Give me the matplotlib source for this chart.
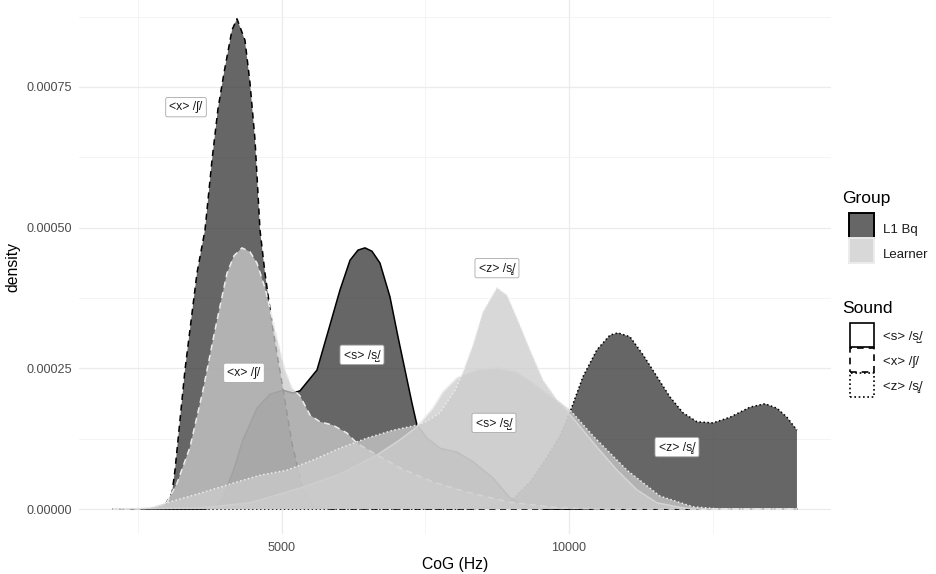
import matplotlib.pyplot as plt
from matplotlib.patches import Rectangle

FONTS = ["Liberation Sans", "DejaVu Sans"]
plt.rcParams["font.family"] = FONTS

# density curves (CoG in Hz, density)
cog_l1_s = [2056, 3659, 3833, 3955, 4146, 4321, 4564, 4791, 5017, 5192, 5314,
            5610, 5836, 6010, 6185, 6324, 6446, 6568, 6707, 6881, 7021, 7143,
            7265, 7352, 7526, 7752, 8049, 8327, 8676, 8972, 9233, 9581, 13971]
dens_l1_s = [0, 0, 0.000004, 0.000016, 0.000066, 0.000123, 0.000179, 0.000204,
             0.000211, 0.000206, 0.000210, 0.000247, 0.000327, 0.000389,
             0.000442, 0.000460, 0.000464, 0.000458, 0.000437, 0.000377,
             0.000306, 0.000247, 0.000188, 0.000149, 0.000126, 0.000108,
             0.000101, 0.000084, 0.000055, 0.000020, 0.000005, 0, 0]

cog_l1_x = [2056, 2701, 2875, 2962, 3084, 3136, 3310, 3519, 3659, 3781, 3885,
            3990, 4129, 4216, 4355, 4443, 4530, 4617, 4704, 4843, 5000, 5174,
            5366, 5540, 5836, 13971]
dens_l1_x = [0, 0, 0.000002, 0.000007, 0.000028, 0.000069, 0.000247, 0.000419,
             0.000496, 0.000620, 0.000711, 0.000775, 0.000851, 0.000871,
             0.000833, 0.000757, 0.000656, 0.000496, 0.000419, 0.000318,
             0.000224, 0.000117, 0.000034, 0.000004, 0, 0]

cog_l1_z = [2056, 8275, 8623, 9007, 9320, 9616, 9843, 10017, 10243, 10487,
            10714, 10853, 11062, 11289, 11533, 11759, 11985, 12229, 12508,
            12804, 13153, 13414, 13623, 13797, 13971]
dens_l1_z = [0, 0, 0.000004, 0.000016, 0.000048, 0.000092, 0.000130, 0.000172,
             0.000235, 0.000283, 0.000309, 0.000313, 0.000306, 0.000274,
             0.000235, 0.000199, 0.000171, 0.000155, 0.000153, 0.000163,
             0.000181, 0.000187, 0.000179, 0.000163, 0.000140]

cog_lr_s = [2056, 3572, 4443, 5314, 6010, 6655, 7056, 7352, 7630, 7805, 8049,
            8397, 8763, 9094, 9372, 9843, 10139, 10487, 10836, 11184, 11533,
            11985, 12282, 13971]
dens_lr_s = [0, 0.000002, 0.000011, 0.000037, 0.000062, 0.000096, 0.000123,
             0.000146, 0.000179, 0.000208, 0.000233, 0.000247, 0.000251,
             0.000243, 0.000224, 0.000188, 0.000153, 0.000110, 0.000069,
             0.000034, 0.000011, 0.000002, 0, 0]

cog_lr_x = [2056, 2526, 2822, 2997, 3171, 3397, 3624, 3833, 4042, 4164, 4303,
            4443, 4564, 4704, 4878, 5052, 5174, 5314, 5488, 5662, 5888, 6132,
            6307, 6655, 7056, 7630, 8223, 8972, 9843, 10540, 13971]
dens_lr_x = [0, 0, 0.000004, 0.000012, 0.000046, 0.000110, 0.000211, 0.000318,
             0.000419, 0.000450, 0.000464, 0.000457, 0.000437, 0.000393,
             0.000318, 0.000247, 0.000215, 0.000201, 0.000167, 0.000155,
             0.000149, 0.000135, 0.000117, 0.000096, 0.000073, 0.000048,
             0.000030, 0.000012, 0.000002, 0, 0]

cog_lr_z = [2056, 2701, 2997, 3572, 4216, 4617, 5087, 5540, 6010, 6481, 6934,
            7352, 7526, 7752, 7874, 8014, 8153, 8327, 8501, 8745, 8920, 9094,
            9320, 9547, 9791, 10017, 10418, 11010, 11585, 12160, 12630, 13971]
dens_lr_z = [0, 0.000002, 0.000011, 0.000028, 0.000048, 0.000060, 0.000069,
             0.000087, 0.000108, 0.000126, 0.000140, 0.000149, 0.000156,
             0.000171, 0.000190, 0.000211, 0.000243, 0.000291, 0.000350,
             0.000393, 0.000380, 0.000339, 0.000283, 0.000229, 0.000194,
             0.000176, 0.000130, 0.000069, 0.000023, 0.000004, 0, 0]

groups = ["L1 Bq", "Learner"]
sounds = ["<s> /s\u033a/", "<x> /\u0283/", "<z> /s\u033b/"]

# in-plot labels: (text, CoG, density)
label_text = [sounds[1], sounds[1], sounds[0], sounds[2], sounds[0], sounds[2]]
label_cog = [3328, 4338, 6394, 8745, 8693, 11881]
label_dens = [0.000714, 0.000242, 0.000274, 0.000428, 0.000153, 0.000110]

fill_col = {"L1 Bq": (0.2, 0.2, 0.2, 0.75), "Learner": (0.8, 0.8, 0.8, 0.75)}
line_col = {"L1 Bq": "black", "Learner": "#ececec"}
line_sty = {sounds[0]: "-", sounds[1]: (0, (4, 3)), sounds[2]: (0, (1, 1.6))}

curves = [
    ("L1 Bq", sounds[0], cog_l1_s, dens_l1_s),
    ("L1 Bq", sounds[1], cog_l1_x, dens_l1_x),
    ("L1 Bq", sounds[2], cog_l1_z, dens_l1_z),
    ("Learner", sounds[0], cog_lr_s, dens_lr_s),
    ("Learner", sounds[1], cog_lr_x, dens_lr_x),
    ("Learner", sounds[2], cog_lr_z, dens_lr_z),
]

W, H = 937, 574
fig = plt.figure(figsize=(W / 100, H / 100), dpi=100)
ax = fig.add_axes([79 / W, 1 - 533.5 / H, (831 - 79) / W, 533.5 / H])
ax.set_xlim(1464, 14564)
ax.set_ylim(-0.0000435, 0.0009044)

# each group: fill then outline, stacked in drawing order like ggplot
z = 2
for grp, snd, xs, ys in curves:
    ax.fill_between(xs, ys, 0, facecolor=fill_col[grp], linewidth=0, zorder=z)
    ax.plot(xs, ys, color=line_col[grp], linestyle=line_sty[snd], linewidth=1.1,
            zorder=z + 0.5)
    z += 1

for txt, xv, yv in zip(label_text, label_cog, label_dens):
    ax.text(xv, yv, txt, ha="center", va="center", fontsize=8.8, color="#1a1a1a",
            zorder=20,
            bbox=dict(boxstyle="round,pad=0.3,rounding_size=0.15", fc="white",
                      ec="#a8a8a8", lw=0.6))

# theme_minimal look
ax.set_xticks([5000, 10000])
ax.set_xticks([2500, 7500, 12500], minor=True)
ax.set_yticks([0, 0.00025, 0.0005, 0.00075])
ax.set_yticks([0.000125, 0.000375, 0.000625, 0.000875], minor=True)
ax.set_yticklabels(["0.00000", "0.00025", "0.00050", "0.00075"])
ax.grid(which="major", color="#ebebeb", linewidth=0.9, zorder=0)
ax.grid(which="minor", color="#f2f2f2", linewidth=0.6, zorder=0)
ax.set_axisbelow(True)
ax.tick_params(which="both", length=0, labelsize=9.1, labelcolor="#4d4d4d")
ax.tick_params(axis="x", pad=6)
ax.tick_params(axis="y", pad=5)
for s in ax.spines.values():
    s.set_visible(False)
ax.set_xlabel("CoG (Hz)", fontsize=11.3, labelpad=2)
ax.set_ylabel("density", fontsize=11.3, labelpad=4)

# legends drawn by hand, ggplot style
def fx(px):
    return px / W


def fy(py):
    return 1 - py / H


key_w, key_h = 25, 25
fig.text(fx(842), fy(203), "Group", fontsize=12.5, va="baseline")
for i, grp in enumerate(groups):
    top = 213 + i * key_h
    fig.add_artist(Rectangle((fx(849), fy(top + key_h)), key_w / W, key_h / H,
                             transform=fig.transFigure, facecolor=fill_col[grp],
                             edgecolor=line_col[grp], linewidth=1.4))
    fig.text(fx(883), fy(top + key_h / 2 + 4), grp, fontsize=9.5, va="center",
             color="#1a1a1a")

fig.text(fx(842), fy(313), "Sound", fontsize=12.5, va="baseline")
for i, snd in enumerate(sounds):
    top = 322 + i * key_h
    fig.add_artist(Rectangle((fx(850), fy(top + key_h)), (key_w - 1) / W,
                             (key_h - 1) / H, transform=fig.transFigure,
                             facecolor="white", edgecolor="black",
                             linestyle=line_sty[snd], linewidth=1.2))
    fig.text(fx(883), fy(top + key_h / 2 + 2), snd, fontsize=9.5, va="center",
             color="#1a1a1a")

fig.savefig("out.png", dpi=100, facecolor="white")
